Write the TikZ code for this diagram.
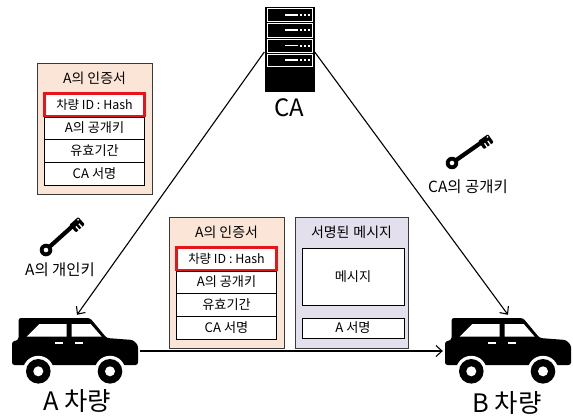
\documentclass[tikz,border=0pt]{standalone}
\usepackage{fontspec}
\setmainfont{Noto Sans CJK KR}
\usetikzlibrary{arrows.meta,calc}

\definecolor{certfill}{HTML}{FBE5D6}
\definecolor{msgfill}{HTML}{E4DFEC}
\definecolor{boxline}{HTML}{3A3A3A}
\definecolor{idred}{HTML}{E8141B}

\tikzset{
  x=1bp, y=-1bp,
  every node/.style={inner sep=0pt, text=black},
  boxtext/.style={font=\fontsize{13.2}{15}\selectfont},
  titletext/.style={font=\fontsize{14}{16}\selectfont},
  outerbox/.style={draw=boxline, line width=0.9bp},
  rowbox/.style={draw=black, fill=white, line width=0.8bp, boxtext,
    minimum width=100bp},
  idbox/.style={draw=idred, fill=white, line width=2.8bp,
    font=\fontsize{12.5}{14}\selectfont,
    minimum width=100bp, minimum height=22.5bp},
  link/.style={line width=1.1bp, -{Straight Barb[length=6bp,width=11bp]}},
  % certificate card, origin at its top-left corner
  cert/.pic={
    \path[outerbox, fill=certfill] (0,0) rectangle (115,131);
    \node[titletext] (-title) at (57.5,15) {A의 인증서};
    \node[rowbox, minimum height=22bp] (-key) at (57.5,65) {A의 공개키};
    \node[rowbox, minimum height=23bp] (-valid) at (57.5,87.5) {유효기간};
    \node[rowbox, minimum height=23bp] (-sign) at (57.5,110.5) {CA 서명};
    \node[idbox] (-id) at (57.5,41.75) {차량 ID : Hash};
  },
  % vehicle icon, origin at the rear end of the roof line
  vehicle/.pic={
    \fill[black, rounded corners=2.5bp]
      (0,47) -- (0,23.5) -- (6.5,22) -- (6.5,0) -- (78,0) -- (94.7,20)
      -- (121,22) -- (126,27) -- (126,47) -- cycle;
    \fill[white] (14.7,18.7) -- (27.3,6) -- (54.7,6) -- (54.7,18.7) -- cycle;
    \fill[white] (59.7,6) -- (78.7,6) -- (89.7,18.7) -- (59.7,18.7) -- cycle;
    \draw[white, line width=1.8bp] (43,25.3) -- (51.3,25.3);
    \draw[white, line width=1.8bp] (63,25.3) -- (70.7,25.3);
    \foreach \wx in {26.3,98} {
      \fill[white] (\wx,53.3) circle[radius=15.5];
      \fill[black] (\wx,53.3) circle[radius=12.3];
      \fill[white] (\wx,53.3) circle[radius=5];
    }
  },
  % key icon lying along the local x axis, ring at the origin
  keyicon/.pic={
    \fill[black] (0,0) circle[radius=6.3];
    \fill[white] (0,0) circle[radius=2.3];
    \draw[black, line width=4.2bp] (5,0) -- (38,0);
    \fill[black, rounded corners=1bp] (34,-3) -- (46,-3) -- (46,7) -- (34,7) -- cycle;
    \draw[white, line width=1.3bp] (38,2.5) -- (38,8);
    \draw[white, line width=1.3bp] (42,2.5) -- (42,8);
    \fill[white] (44,-1) circle[radius=1];
  }
}

\begin{document}
\begin{tikzpicture}
\useasboundingbox (0,0) rectangle (573,417);

% certification authority server rack
\node[minimum width=50bp, minimum height=85bp] (ca) at (289.5,49.5) {};
\fill[black] (264.5,7) rectangle (314.5,92);
\foreach \top/\bot in {8.5/21.5, 23.5/37, 39/52, 54/66.5} {
  \draw[white, line width=0.7bp] (267,\top) rectangle (312,\bot);
  \draw[white, line width=1.8bp] (285,{(\top+\bot)/2}) -- (298,{(\top+\bot)/2});
  \foreach \dx in {301,305,309}
    \fill[white] (\dx-1,{(\top+\bot)/2-1}) rectangle ++(2,2);
}
\node[font=\fontsize{24}{28}\selectfont] (calabel) at (289.5,108) {CA};

% certificate issued by the CA
\pic (certtop) at (37,63) {cert};

% vehicles
\pic (vehA) at (12,318) {vehicle};
\pic (vehB) at (445,318) {vehicle};
\node[minimum width=126bp, minimum height=66bp] (carA) at (75,351) {};
\node[minimum width=126bp, minimum height=66bp] (carB) at (508,351) {};
\node[font=\fontsize{25.5}{29}\selectfont] (labelA) at (77,401) {A 차량};
\node[font=\fontsize{25.5}{29}\selectfont] (labelB) at (507,403) {B 차량};

% keys
\pic[rotate=42] (keyA) at (46,250) {keyicon};
\node[font=\fontsize{15.5}{17}\selectfont] (keyAlabel) at (60,270) {A의 개인키};
\pic[rotate=35] (keyCA) at (452,163) {keyicon};
\node[font=\fontsize{15.5}{17}\selectfont] (keyCAlabel) at (468,187) {CA의 공개키};

% data sent from A to B
\pic (certmid) at (169,217) {cert};
\path[outerbox, fill=msgfill] (295,217) rectangle (408,348);
\node[titletext] (msgtitle) at (351.5,232) {서명된\hspace{4bp}메시지};
\node[rowbox, minimum width=102bp, minimum height=57bp] (msgbody) at (353,276.5) {메시지};
\node[rowbox, minimum width=102bp, minimum height=20bp] (msgsign) at (353,328) {A 서명};

% connectors
\draw[link] ([yshift=-2.5bp]ca.west) -- ([xshift=2bp,yshift=3bp]carA.north);
\draw[link] ([yshift=-2.5bp]ca.east) -- ([yshift=3bp]carB.north);
\draw[link] ([xshift=2bp]carA.east) -- ([xshift=-2bp]carB.west);
\end{tikzpicture}
\end{document}
